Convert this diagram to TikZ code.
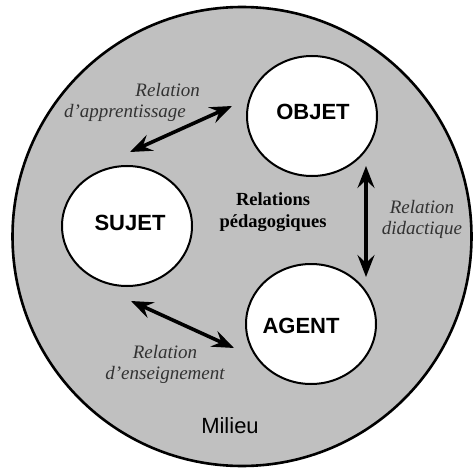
\documentclass[tikz,border=0pt]{standalone}
\usepackage{fontspec}
\setmainfont{Liberation Serif}
\setsansfont{Liberation Sans}
\usepackage{tikz}
\usetikzlibrary{arrows.meta}
\usetikzlibrary{shapes.geometric}
\definecolor{milieugray}{RGB}{192,192,192}
\definecolor{labelgray}{RGB}{50,50,50}
\tikzset{pole/.style={ellipse, draw=black, line width=2pt, fill=white, minimum width=130pt, minimum height=120pt, inner sep=0pt},
  polename/.style={font=\sffamily\bfseries\fontsize{22}{24}\selectfont},
  rellabel/.style={font=\itshape\fontsize{19}{21}\selectfont, text=labelgray, align=center, inner sep=0pt},
  relarrow/.style={{Stealth[length=22pt,width=17pt,inset=8pt]}-{Stealth[length=22pt,width=17pt,inset=8pt]}, line width=3.6pt}}

\begin{document}
\begin{tikzpicture} [x=1pt, y=-1pt]
\useasboundingbox (0,0) rectangle (474,468);
\draw[fill=milieugray, line width=2.6pt] (242,236.5) circle (229.5pt);
\node[pole] (objet) at (312,116) {};
\node[pole] (sujet) at (127,226) {};
\node[pole] (agent) at (311,324) {};
\node[polename] (objetname) at (313,112) {OBJET};
\node[polename] (sujetname) at (130,223) {SUJET};
\node[polename] (agentname) at (301,326) {AGENT};
\node[font=\sffamily\fontsize{22}{24}\selectfont] (milieu) at (230,426) {Milieu};
\node[font=\bfseries\fontsize{18.5}{22}\selectfont, align=center, inner sep=0pt] (peda) at (273,212) {Relations\\p\'edagogiques};
% fleches
\coordinate (appA) at (130,152); \coordinate (appB) at (232,106);
\coordinate (didA) at (366,166); \coordinate (didB) at (366,277);
\coordinate (ensA) at (131,301); \coordinate (ensB) at (234,348);
\draw[relarrow] (appA) -- (appB);
\draw[relarrow] (didA) -- (didB);
\draw[relarrow] (ensA) -- (ensB);
% etiquettes
\node[rellabel, align=right] (applabel) at (132,102) {Relation\\d’apprentissage\hspace*{14pt}};
\node[rellabel] (didlabel) at (422,219) {Relation\\didactique};
\node[rellabel] (enslabel) at (165,364) {Relation\\d’enseignement};
\end{tikzpicture}
\end{document}
